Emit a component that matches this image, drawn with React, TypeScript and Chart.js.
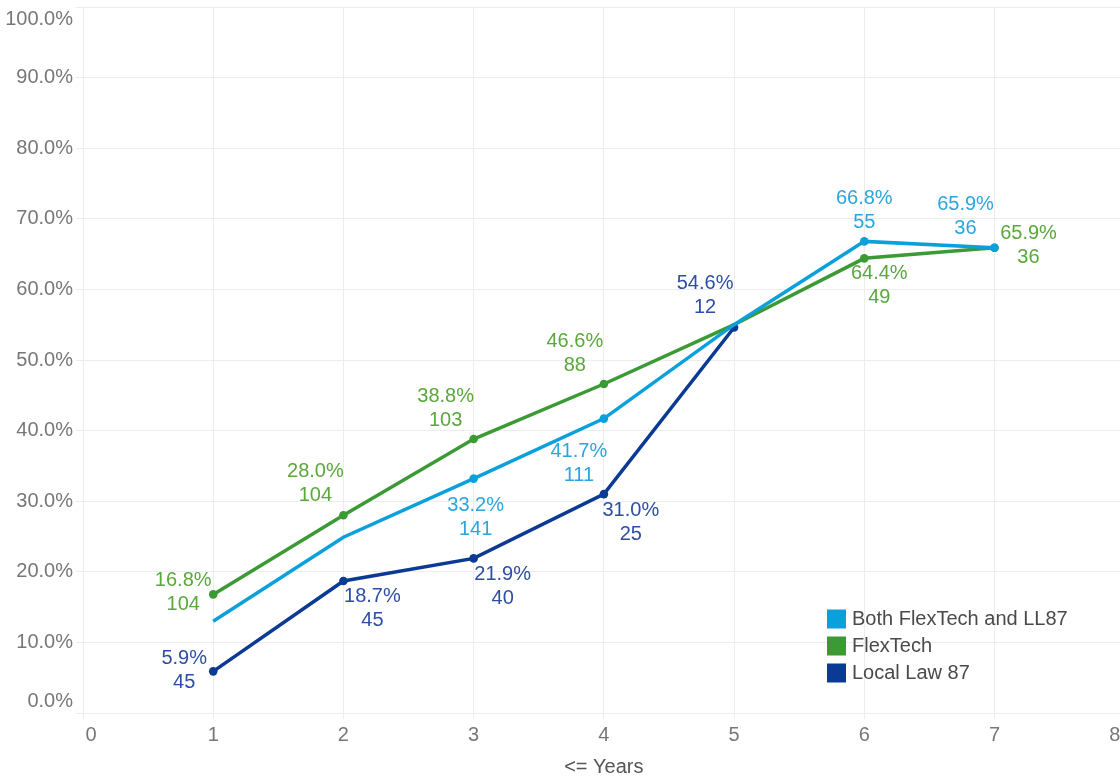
import React, { useEffect, useRef } from "react";
import { Chart, registerables } from "chart.js";

Chart.register(...registerables);

// ---- Data ----
const years = [1, 2, 3, 4, 5, 6, 7];
const bothPct = [13.0, 24.9, 33.2, 41.7, 55.0, 66.8, 65.9];
const bothCount: (number | null)[] = [null, null, 141, 111, null, 55, 36];
const flexPct = [16.8, 28.0, 38.8, 46.6, 55.0, 64.4, 65.9];
const flexCount: (number | null)[] = [104, 104, 103, 88, null, 49, 36];
const ll87Pct = [5.9, 18.7, 21.9, 31.0, 54.6];
const ll87Count: (number | null)[] = [45, 45, 40, 25, 12];
const yTicks = [0, 10, 20, 30, 40, 50, 60, 70, 80, 90, 100];
const xTicks = [0, 1, 2, 3, 4, 5, 6, 7, 8];
const seriesNames = ["Both FlexTech and LL87", "FlexTech", "Local Law 87"];
const xTitle = "<= Years";

// ---- Styles ----
const lineColors = ["#0aa0db", "#3c9a35", "#0a3a93"];
const textColors = ["#2aa6de", "#5aa83c", "#2e4ea6"];
// label centre offsets (px) relative to each point
const labelOffsets: [number, number][][] = [
  [[0, 0], [0, 0], [2, 39], [-25, 45], [0, 0], [0, -31], [-29, -31]],
  [[-30, -2], [-28, -32], [-28, -31], [-29, -31], [0, 0], [15, 27], [34, -2]],
  [[-29, -1], [29, 28], [29, 28], [27, 28], [-29, -32]],
];
const FONT = '20px "Liberation Sans", Arial, sans-serif';
const W = 1129;

const pcts = [bothPct, flexPct, ll87Pct];
const counts = [bothCount, flexCount, ll87Count];

const overlayPlugin = {
  id: "overlay",
  afterDatasetsDraw(chart: any) {
    const ctx = chart.ctx;
    ctx.save();
    ctx.font = FONT;
    ctx.textAlign = "center";
    ctx.textBaseline = "middle";
    pcts.forEach((arr, di) => {
      const meta = chart.getDatasetMeta(di);
      arr.forEach((v, i) => {
        const c = counts[di][i];
        if (c == null) return;
        const el = meta.data[i];
        const [dx, dy] = labelOffsets[di][i];
        ctx.fillStyle = textColors[di];
        ctx.fillText(v.toFixed(1) + "%", el.x + dx, el.y + dy - 12);
        ctx.fillText(String(c), el.x + dx, el.y + dy + 12);
      });
    });
    ctx.restore();
  },
  afterDraw(chart: any) {
    const ctx = chart.ctx;
    const area = chart.chartArea;
    const xs = chart.scales.x;
    const ys = chart.scales.y;
    ctx.save();
    ctx.font = FONT;
    // y tick labels
    ctx.fillStyle = "#777777";
    ctx.textAlign = "right";
    ctx.textBaseline = "middle";
    yTicks.forEach((t) => {
      let py = ys.getPixelForValue(t);
      py = Math.min(Math.max(py, area.top + 12.5), area.bottom - 12);
      ctx.fillText(t.toFixed(1) + "%", area.left - 10, py);
    });
    // x tick labels
    ctx.textAlign = "center";
    xTicks.forEach((t) => {
      let px = xs.getPixelForValue(t);
      px = Math.min(Math.max(px, area.left + 8), area.right - 10);
      ctx.fillText(String(t), px, area.bottom + 22);
    });
    // x title
    ctx.fillStyle = "#555555";
    ctx.fillText(xTitle, (area.left + area.right) / 2, area.bottom + 54);
    // legend
    ctx.textAlign = "left";
    seriesNames.forEach((name, i) => {
      const cy = 619 + i * 27;
      ctx.fillStyle = lineColors[i];
      ctx.fillRect(827, cy - 9.5, 19, 19);
      ctx.fillStyle = "#4a4a4a";
      ctx.fillText(name, 852, cy);
    });
    ctx.restore();
  },
};

export default function App() {
  const ref = useRef<HTMLCanvasElement | null>(null);
  useEffect(() => {
    if (!ref.current) return;
    const datasets = pcts.map((arr, di) => ({
      label: seriesNames[di],
      data: arr.map((v, i) => ({ x: years[i], y: v })),
      borderColor: lineColors[di],
      backgroundColor: lineColors[di],
      borderWidth: 3.5,
      pointRadius: arr.map((_, i) => (counts[di][i] == null ? 0 : 4.3)),
      pointBorderWidth: 0,
      pointHoverRadius: 0,
      tension: 0,
      fill: false,
    }));
    const chart = new Chart(ref.current, {
      type: "line",
      data: { datasets },
      plugins: [overlayPlugin],
      options: {
        responsive: false,
        animation: false,
        layout: { padding: { top: 7, left: 0, right: 0, bottom: 0 } },
        plugins: { legend: { display: false }, tooltip: { enabled: false } },
        scales: {
          x: {
            type: "linear",
            min: 0,
            max: 8,
            ticks: { display: false, stepSize: 1 },
            grid: { color: "#ededed", lineWidth: 1, drawTicks: true, tickLength: 6 },
            border: { display: false },
            afterFit: (s: any) => {
              s.height = 65;
            },
          },
          y: {
            min: 0,
            max: 100,
            ticks: { display: false, stepSize: 10 },
            grid: { color: "#ededed", lineWidth: 1, drawTicks: true, tickLength: 7 },
            border: { display: false },
            afterFit: (s: any) => {
              s.width = 83;
            },
          },
        },
      },
    } as any);
    return () => chart.destroy();
  }, []);
  return (
    <div style={{ position: "fixed", left: 0, top: 0, width: W, height: 778, background: "#fff" }}>
      <canvas ref={ref} width={W} height={778} style={{ display: "block" }} />
    </div>
  );
}
